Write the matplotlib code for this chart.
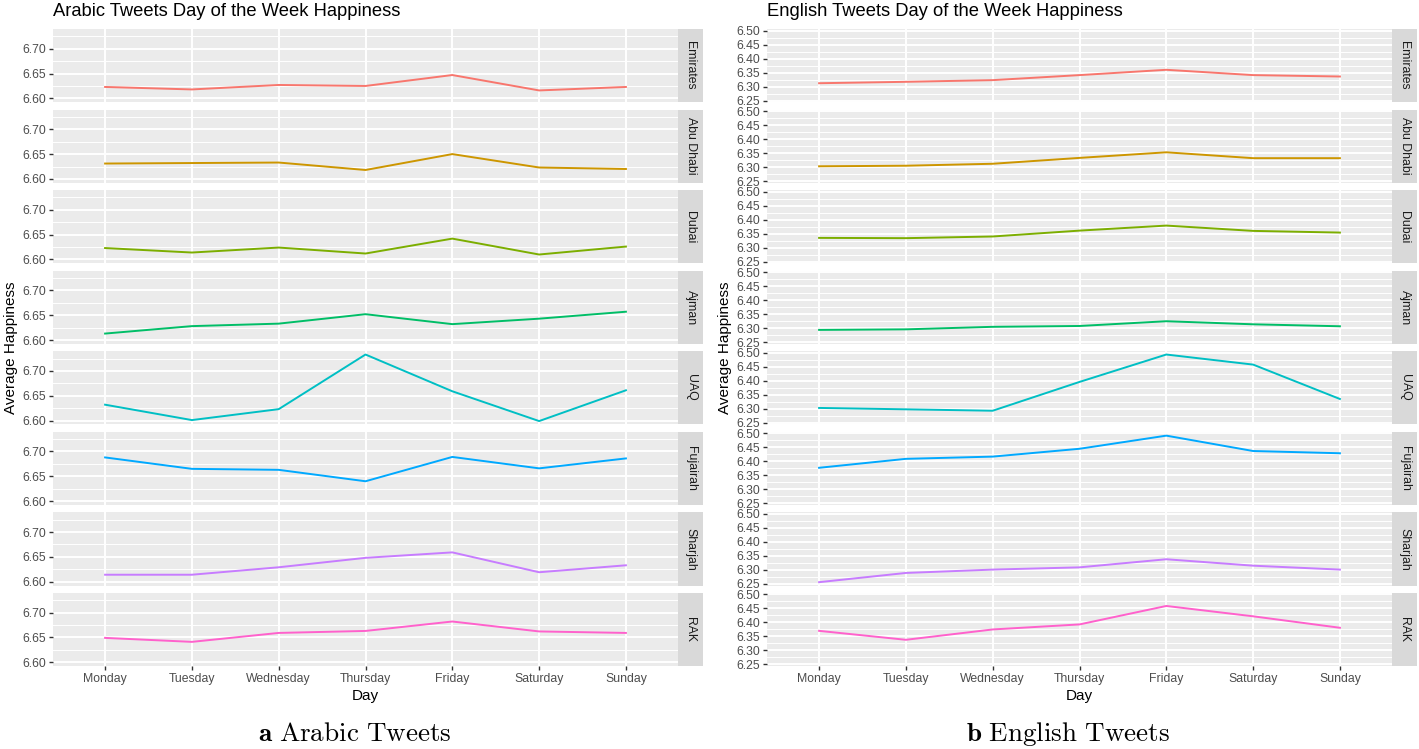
import matplotlib
matplotlib.use("Agg")
import matplotlib.pyplot as plt
import numpy as np

plt.rcParams["font.family"] = ["Liberation Sans", "DejaVu Sans"]
plt.rcParams["mathtext.fontset"] = "cm"

W, H = 1419, 749
fig = plt.figure(figsize=(W / 100, H / 100), dpi=100)

days = ["Monday", "Tuesday", "Wednesday", "Thursday", "Friday", "Saturday", "Sunday"]
regions = ["Emirates", "Abu Dhabi", "Dubai", "Ajman", "UAQ", "Fujairah", "Sharjah", "RAK"]
colors = ["#F8766D", "#CD9600", "#7CAE00", "#00BE67", "#00BFC4", "#00A9FF", "#C77CFF", "#FF61CC"]

# Arabic tweets, average happiness per day (Mon..Sun)
ar_emirates = [6.623, 6.618, 6.627, 6.625, 6.647, 6.616, 6.623]
ar_abudhabi = [6.631, 6.632, 6.633, 6.618, 6.650, 6.623, 6.620]
ar_dubai = [6.623, 6.614, 6.624, 6.612, 6.642, 6.610, 6.626]
ar_ajman = [6.613, 6.628, 6.633, 6.652, 6.632, 6.643, 6.657]
ar_uaq = [6.632, 6.601, 6.623, 6.733, 6.659, 6.599, 6.661]
ar_fujairah = [6.688, 6.665, 6.663, 6.640, 6.689, 6.666, 6.686]
ar_sharjah = [6.614, 6.614, 6.629, 6.648, 6.659, 6.619, 6.633]
ar_rak = [6.649, 6.641, 6.659, 6.663, 6.682, 6.662, 6.659]

# English tweets
en_emirates = [6.312, 6.317, 6.323, 6.341, 6.360, 6.341, 6.336]
en_abudhabi = [6.303, 6.305, 6.312, 6.333, 6.353, 6.332, 6.332]
en_dubai = [6.335, 6.334, 6.340, 6.361, 6.379, 6.360, 6.354]
en_ajman = [6.294, 6.296, 6.305, 6.308, 6.325, 6.314, 6.307]
en_uaq = [6.303, 6.298, 6.293, 6.396, 6.494, 6.458, 6.335]
en_fujairah = [6.377, 6.409, 6.417, 6.445, 6.492, 6.437, 6.429]
en_sharjah = [6.256, 6.289, 6.301, 6.309, 6.338, 6.315, 6.301]
en_rak = [6.370, 6.338, 6.375, 6.393, 6.459, 6.422, 6.381]

arabic = [ar_emirates, ar_abudhabi, ar_dubai, ar_ajman, ar_uaq, ar_fujairah, ar_sharjah, ar_rak]
english = [en_emirates, en_abudhabi, en_dubai, en_ajman, en_uaq, en_fujairah, en_sharjah, en_rak]

ar_ticks = [6.60, 6.65, 6.70]
en_ticks = [6.25, 6.30, 6.35, 6.40, 6.45, 6.50]


def fx(px):
    return px / W


def fy(py):
    return 1 - py / H


PANEL_TOP, PANEL_STEP, PANEL_H = 29, 80.55, 73.2
STRIP_W = 25


def draw_facets(x0, x1, series, ticks, title, caption, cap_x):
    allv = np.concatenate(series)
    lo, hi = allv.min(), allv.max()
    pad = (hi - lo) * 0.05
    ylim = (lo - pad, hi + pad)
    step = ticks[1] - ticks[0]
    minor = np.arange(ticks[0] - step / 2, ticks[-1] + step, step)
    minor = minor[(minor > ylim[0]) & (minor < ylim[1])]

    for i, (region, vals, col) in enumerate(zip(regions, series, colors)):
        top = PANEL_TOP + i * PANEL_STEP
        ax = fig.add_axes([fx(x0), fy(top + PANEL_H), fx(x1 - x0), PANEL_H / H])
        ax.set_facecolor("#EBEBEB")
        for s in ax.spines.values():
            s.set_visible(False)
        ax.plot(range(len(days)), vals, color=col, lw=1.4, zorder=3)
        ax.set_yticks(ticks)
        ax.set_yticklabels([f"{t:.2f}" for t in ticks])
        ax.set_yticks(minor, minor=True)
        ax.set_xticks(range(len(days)))
        ax.set_xlim(-0.6, len(days) - 0.4)
        ax.set_ylim(*ylim)
        ax.grid(which="major", color="white", lw=1.4)
        ax.grid(which="minor", axis="y", color="white", lw=0.7)
        ax.set_axisbelow(True)
        ax.tick_params(axis="y", which="major", length=2.75, width=1.0,
                       color="#333333", labelsize=8.8, labelcolor="#4D4D4D", pad=2.2)
        ax.tick_params(which="minor", length=0)
        if i < len(regions) - 1:
            ax.tick_params(axis="x", length=0, labelbottom=False)
        else:
            ax.set_xticklabels(days)
            ax.tick_params(axis="x", length=2.75, width=1.0, color="#333333",
                           labelsize=8.8, labelcolor="#4D4D4D", pad=2.2)

        # facet strip
        sax = fig.add_axes([fx(x1), fy(top + PANEL_H), fx(STRIP_W), PANEL_H / H])
        sax.set_facecolor("#D9D9D9")
        sax.set_xticks([])
        sax.set_yticks([])
        for s in sax.spines.values():
            s.set_visible(False)
        sax.text(0.5, 0.5, region, rotation=-90, ha="center", va="center",
                 fontsize=8.8, color="#1A1A1A", transform=sax.transAxes)

    mid_y = PANEL_TOP + (7 * PANEL_STEP + PANEL_H) / 2
    fig.text(fx(x0), fy(12), title, ha="left", va="center", fontsize=13.2, color="black")
    fig.text(fx(x0 - 42), fy(mid_y), "Average Happiness", rotation=90,
             ha="center", va="center", fontsize=11, color="black")
    fig.text(fx((x0 + x1) / 2), fy(696), "Day", ha="center", va="center",
             fontsize=11, color="black")
    fig.text(fx(cap_x), fy(734), caption, ha="center", va="center", fontsize=19.5)


draw_facets(53, 678, arabic, ar_ticks, "Arabic Tweets Day of the Week Happiness",
            r"$\mathbf{a}\ \mathrm{Arabic\ Tweets}$", 355)
draw_facets(767, 1392, english, en_ticks, "English Tweets Day of the Week Happiness",
            r"$\mathbf{b}\ \mathrm{English\ Tweets}$", 1068)

fig.savefig("out.png", dpi=100)
